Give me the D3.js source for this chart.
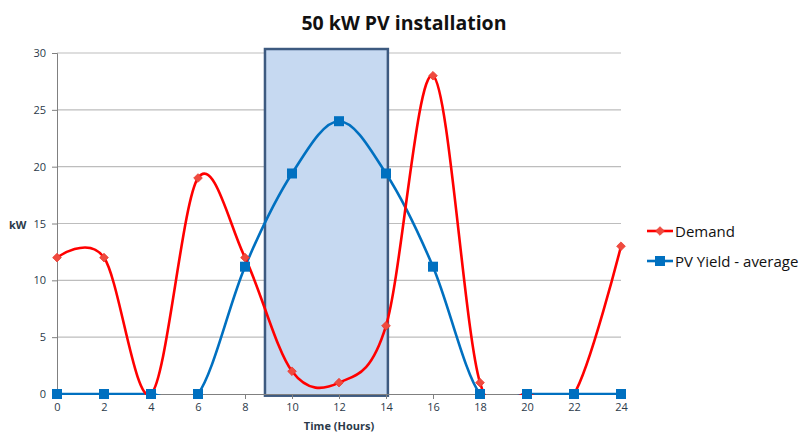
<!DOCTYPE html>
<html lang="en">
<head>
<meta charset="utf-8">
<title>50 kW PV installation</title>
<script src="https://cdn.jsdelivr.net/npm/d3@7"></script>
<style>
  body { margin: 0; background: #fff; }
  text { font-family: "Open Sans", "Liberation Sans", sans-serif; }
  .tick text { fill: #2b3a4a; font-size: 11px; }
</style>
</head>
<body>
<script>
// chart data
var hours = [0, 2, 4, 6, 8, 10, 12, 14, 16, 18, 20, 22, 24];
var demand = [12, 12, 0, 19, 12, 2, 1, 6, 28, 1, 0, 0, 13];
var pvYield = [0, 0, 0, 0, 11.2, 19.4, 24, 19.4, 11.2, 0, 0, 0, 0];
var yTicks = [0, 5, 10, 15, 20, 25, 30];
var peakWindow = [8.85, 14.08];

var w = 803, h = 434;
var x0 = 57, x1 = 621, yTop = 53, yBot = 394;

var x = d3.scaleLinear().domain([0, 24]).range([x0, x1]);
var y = d3.scaleLinear().domain([0, 30]).range([yBot, yTop]);

var svg = d3.select("body").append("svg")
  .attr("width", w).attr("height", h);

// gridlines
svg.append("g")
  .selectAll("line")
  .data(yTicks.filter(function(d){ return d > 0; }))
  .enter().append("line")
  .attr("x1", x0).attr("x2", x1)
  .attr("y1", function(d){ return y(d); })
  .attr("y2", function(d){ return y(d); })
  .attr("stroke", "#bdbdbd").attr("stroke-width", 1.2);

// highlighted window
svg.append("rect")
  .attr("x", x(peakWindow[0]))
  .attr("y", y(30.35))
  .attr("width", x(peakWindow[1]) - x(peakWindow[0]))
  .attr("height", y(-0.15) - y(30.35))
  .attr("fill", "#c6d9f1")
  .attr("stroke", "#3d5a80")
  .attr("stroke-width", 2.5);

// axes
var yAxis = d3.axisLeft(y).tickValues(yTicks).tickSize(5).tickPadding(6);
var gy = svg.append("g").attr("transform", "translate(" + x0 + ",0)").call(yAxis);
gy.select(".domain").attr("stroke", "#808080");
gy.selectAll(".tick line").attr("stroke", "#808080");

var xAxis = d3.axisBottom(x).tickValues(hours).tickSize(5).tickPadding(4);
var gx = svg.append("g").attr("transform", "translate(0," + yBot + ")").call(xAxis);
gx.select(".domain").attr("stroke", "#808080");
gx.selectAll(".tick line").attr("stroke", "#808080");

// clip series to plot area
svg.append("clipPath").attr("id", "plot")
  .append("rect").attr("x", x0 - 10).attr("y", yTop - 10)
  .attr("width", x1 - x0 + 20).attr("height", yBot - yTop + 11);

var line = function(vals){
  return d3.line()
    .x(function(d, i){ return x(hours[i]); })
    .y(function(d){ return y(d); })
    .curve(d3.curveCardinal.tension(0))(vals);
};

var series = [
  { name: "PV Yield - average", values: pvYield, color: "#0070c0", marker: "square" },
  { name: "Demand", values: demand, color: "#ff0000", marker: "diamond" }
];

series.forEach(function(s){
  svg.append("path")
    .attr("d", line(s.values))
    .attr("fill", "none")
    .attr("stroke", s.color)
    .attr("stroke-width", 2.6)
    .attr("clip-path", "url(#plot)");
});

function drawMarker(g, type, cx, cy) {
  if (type === "square") {
    g.append("rect")
      .attr("x", cx - 5).attr("y", cy - 5)
      .attr("width", 10).attr("height", 10)
      .attr("fill", "#0070c0");
  } else {
    g.append("path")
      .attr("d", d3.symbol().type(d3.symbolDiamond2).size(48)())
      .attr("transform", "translate(" + cx + "," + cy + ")")
      .attr("fill", "#f04a3e")
      .attr("stroke", "#e8382e").attr("stroke-width", 0.8);
  }
}

// demand markers under, pv on top
[series[1], series[0]].forEach(function(s){
  var g = svg.append("g");
  s.values.forEach(function(v, i){
    drawMarker(g, s.marker, x(hours[i]), y(v));
  });
});

// title and axis labels
svg.append("text")
  .attr("x", 404).attr("y", 30)
  .attr("text-anchor", "middle")
  .attr("font-size", 19.5).attr("font-weight", "bold")
  .attr("fill", "#111")
  .text("50 kW PV installation");

svg.append("text")
  .attr("x", 9).attr("y", 229)
  .attr("font-size", 11).attr("font-weight", "bold")
  .attr("fill", "#2b3a4a")
  .text("kW");

svg.append("text")
  .attr("x", 339).attr("y", 430)
  .attr("text-anchor", "middle")
  .attr("font-size", 11).attr("font-weight", "bold")
  .attr("fill", "#2b3a4a")
  .text("Time (Hours)");

// legend
var legend = svg.append("g");
[series[1], series[0]].forEach(function(s, i){
  var ly = 231 + i * 30;
  legend.append("line")
    .attr("x1", 647).attr("x2", 673)
    .attr("y1", ly).attr("y2", ly)
    .attr("stroke", s.color).attr("stroke-width", 2.6);
  drawMarker(legend, s.marker, 660, ly);
  legend.append("text")
    .attr("x", 675).attr("y", ly + 5.5)
    .attr("font-size", 15)
    .attr("fill", "#111")
    .text(s.name);
});
</script>
</body>
</html>
